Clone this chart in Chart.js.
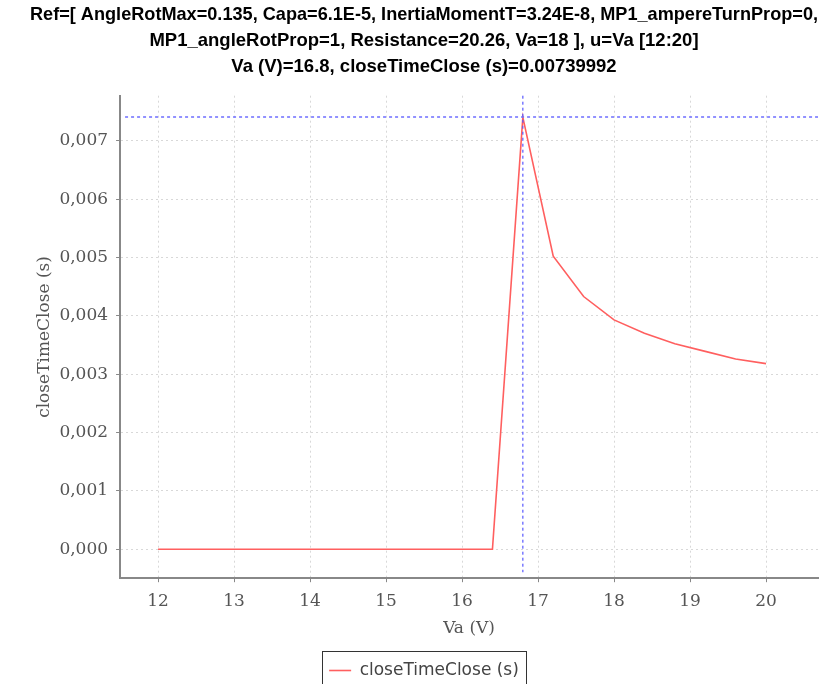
<!DOCTYPE html>
<html>
<head>
<meta charset="utf-8">
<script src="https://cdn.jsdelivr.net/npm/chart.js@4"></script>
<style>
  body { margin: 0; background: #fff; }
  canvas { display: block; }
</style>
</head>
<body>
<canvas id="sweepChart" width="821" height="684"></canvas>
<script>
// Va sweep from 12 to 20 V
const vaValues = [12, 12.4, 12.8, 13.2, 13.6, 14, 14.4, 14.8, 15.2, 15.6, 16, 16.4, 16.8, 17.2, 17.6, 18, 18.4, 18.8, 19.2, 19.6, 20];
const closeTimeValues = [0, 0, 0, 0, 0, 0, 0, 0, 0, 0, 0, 0, 0.00739992, 0.00502, 0.00433, 0.00393, 0.00370, 0.00352, 0.00339, 0.00326, 0.00318];

const titleLines = [
    'Ref=[ AngleRotMax=0.135, Capa=6.1E-5, InertiaMomentT=3.24E-8, MP1_ampereTurnProp=0,',
    'MP1_angleRotProp=1, Resistance=20.26, Va=18 ], u=Va [12:20]',
    'Va (V)=16.8, closeTimeClose (s)=0.00739992'
];
const crossX = 16.8;
const crossY = 0.00739992;

document.addEventListener('DOMContentLoaded', () => {
    const ctx = document.getElementById('sweepChart').getContext('2d');

    // dashed blue crosshair at the selected point + box round the legend
    const extras = {
        id: 'extras',
        afterDatasetsDraw(chart) {
            const { ctx, chartArea, scales } = chart;
            const px = scales.x.getPixelForValue(crossX);
            const py = Math.round(scales.y.getPixelForValue(crossY));
            ctx.save();
            ctx.strokeStyle = 'rgb(90,90,255)';
            ctx.lineWidth = 1.2;
            ctx.setLineDash([3, 3]);
            ctx.beginPath();
            ctx.moveTo(px, chartArea.top);
            ctx.lineTo(px, chartArea.bottom - 6);
            ctx.stroke();
            ctx.strokeStyle = 'rgb(110,110,255)';
            ctx.lineWidth = 1.5;
            ctx.beginPath();
            ctx.moveTo(chartArea.left + 5, py);
            ctx.lineTo(chartArea.right, py);
            ctx.stroke();
            ctx.restore();
        },
        afterDraw(chart) {
            const lg = chart.legend;
            if (!lg || !lg.legendHitBoxes.length) return;
            const hb = lg.legendHitBoxes[0];
            const ctx = chart.ctx;
            ctx.save();
            ctx.strokeStyle = '#333';
            ctx.lineWidth = 1;
            ctx.strokeRect(Math.round(hb.left) - 6.5, Math.round(hb.top) - 10.5, Math.round(hb.width) + 14, Math.round(hb.height) + 22);
            ctx.restore();
        }
    };

    new Chart(ctx, {
        type: 'line',
        data: {
            labels: vaValues,
            datasets: [{
                label: 'closeTimeClose (s)',
                data: vaValues.map((v, i) => ({ x: v, y: closeTimeValues[i] })),
                borderColor: '#ff5f5f',
                backgroundColor: '#ff5f5f',
                borderWidth: 1.6,
                pointRadius: 0,
                tension: 0,
                fill: false
            }]
        },
        options: {
            responsive: false,
            animation: false,
            layout: { padding: { left: 30, right: 3, top: 0, bottom: -5 } },
            plugins: {
                title: {
                    display: true,
                    text: titleLines,
                    color: '#000',
                    font: { family: 'Liberation Sans', size: 18.5, weight: 'bold', lineHeight: 1.4 },
                    padding: { top: 2, bottom: 16 }
                },
                legend: {
                    position: 'bottom',
                    labels: {
                        color: '#444',
                        font: { family: 'DejaVu Sans', size: 17 },
                        usePointStyle: true,
                        pointStyle: 'line',
                        pointStyleWidth: 22,
                        padding: 0
                    }
                },
                tooltip: { enabled: false }
            },
            scales: {
                x: {
                    type: 'linear',
                    min: 11.5,
                    max: 20.684,
                    title: {
                        display: true,
                        text: 'Va (V)',
                        color: '#555',
                        font: { family: 'DejaVu Serif', size: 17 },
                        padding: { top: -2, bottom: 23 }
                    },
                    ticks: {
                        stepSize: 1,
                        includeBounds: false,
                        color: '#555',
                        font: { family: 'DejaVu Serif', size: 17 },
                        padding: 9,
                        maxRotation: 0
                    },
                    grid: { color: '#d8d8d8', tickColor: '#888', tickLength: 4 },
                    border: { color: '#888', width: 2, dash: [2, 3] }
                },
                y: {
                    min: -0.000497,
                    max: 0.007772,
                    title: {
                        display: true,
                        text: 'closeTimeClose (s)',
                        color: '#555',
                        font: { family: 'DejaVu Serif', size: 17 },
                        padding: { top: 4, bottom: -3 }
                    },
                    ticks: {
                        stepSize: 0.001,
                        includeBounds: false,
                        color: '#555',
                        font: { family: 'DejaVu Serif', size: 17 },
                        padding: 8,
                        callback: v => v.toFixed(3).replace('.', ',')
                    },
                    grid: { color: '#d8d8d8', tickColor: '#888', tickLength: 4 },
                    border: { color: '#888', width: 2, dash: [2, 3] }
                }
            }
        },
        plugins: [extras]
    });
});
</script>
</body>
</html>
